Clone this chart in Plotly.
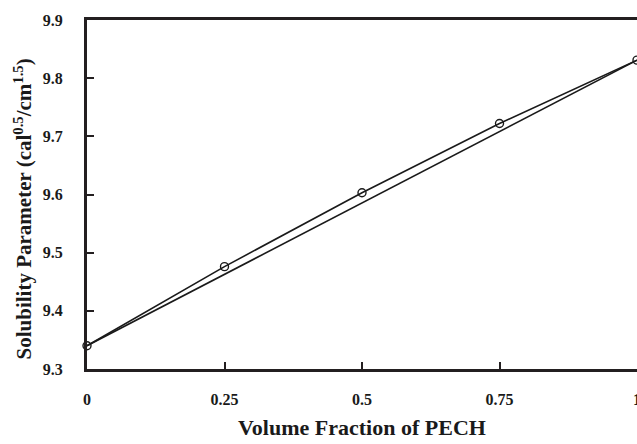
import plotly.graph_objects as go

volume_fraction = [0, 0.25, 0.5, 0.75, 1]
solubility = [9.34, 9.476, 9.603, 9.722, 9.831]
linear_x = [0, 1]
linear_y = [9.34, 9.831]

x_ticks = [0, 0.25, 0.5, 0.75, 1]
x_tick_labels = ["0", "0.25", "0.5", "0.75", "1"]
y_ticks = [9.3, 9.4, 9.5, 9.6, 9.7, 9.8, 9.9]
y_tick_labels = ["9.3", "9.4", "9.5", "9.6", "9.7", "9.8", "9.9"]

x_title = "<b>Volume Fraction of PECH</b>"
y_title = "<b>Solubility Parameter (cal<sup>0.5</sup>/cm<sup>1.5</sup>)</b>"

font_family = "Liberation Serif"
axis_color = "#231f20"

fig = go.Figure()
fig.add_trace(go.Scatter(x=linear_x, y=linear_y, mode="lines",
                         line=dict(color="#1a1a1a", width=1.6),
                         showlegend=False, cliponaxis=False))
fig.add_trace(go.Scatter(x=volume_fraction, y=solubility, mode="lines+markers",
                         line=dict(color="#1a1a1a", width=1.6),
                         marker=dict(symbol="circle-open", size=8,
                                     color="#1a1a1a", line=dict(width=1.4)),
                         showlegend=False, cliponaxis=False))

fig.update_layout(
    width=637, height=444,
    margin=dict(l=87, r=0, t=20, b=75),
    paper_bgcolor="white", plot_bgcolor="white",
    font=dict(family=font_family, color="#1a1a1a"),
    xaxis=dict(range=[0, 1], tickvals=x_ticks, ticktext=x_tick_labels,
               automargin=False, ticklabeloverflow="allow",
               showgrid=False, zeroline=False,
               showline=True, linewidth=3, linecolor=axis_color, mirror=True,
               ticks="inside", ticklen=7, tickwidth=2, tickcolor=axis_color,
               tickfont=dict(size=16, family=font_family, weight="bold"),
               ticklabelstandoff=14),
    yaxis=dict(range=[9.3, 9.9], tickvals=y_ticks, ticktext=y_tick_labels,
               automargin=False,
               showgrid=False, zeroline=False,
               showline=True, linewidth=3, linecolor=axis_color, mirror=False,
               ticks="inside", ticklen=7, tickwidth=2, tickcolor=axis_color,
               tickfont=dict(size=16, family=font_family, weight="bold"),
               ticklabelstandoff=18),
    annotations=[
        dict(text=x_title, xref="paper", yref="paper", x=0.5, y=-0.169,
             xanchor="center", yanchor="middle", showarrow=False,
             font=dict(size=22, family=font_family, color="#1a1a1a")),
        dict(text=y_title, xref="paper", yref="paper", x=-0.1164, y=0.46,
             xanchor="center", yanchor="middle", textangle=-90, showarrow=False,
             font=dict(size=21, family=font_family, color="#1a1a1a")),
    ],
)

fig.write_html(
    "out.html",
    config={"displayModeBar": False},
    post_script="document.body.style.margin='0';document.body.style.overflow='hidden';",
)
